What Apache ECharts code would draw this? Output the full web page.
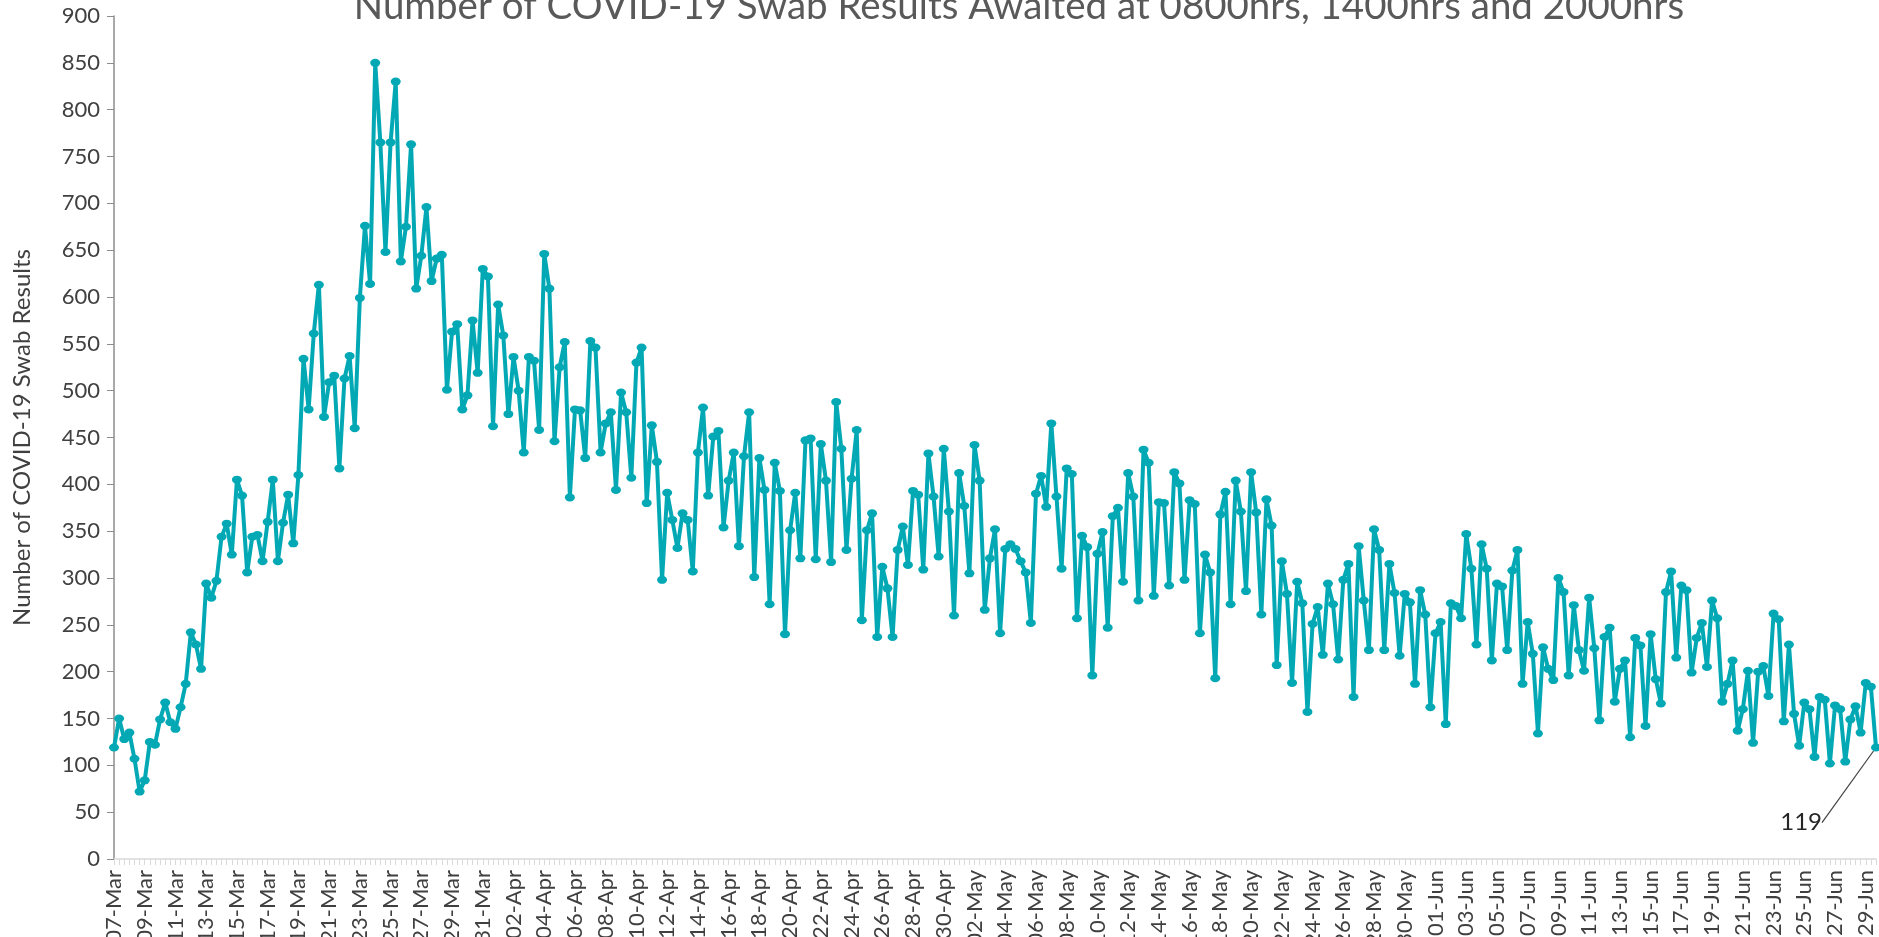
<!DOCTYPE html>
<html>
<head>
<meta charset="utf-8">
<title>COVID-19 Swab Results Awaited</title>
<script src="https://cdn.jsdelivr.net/npm/echarts@6/dist/echarts.min.js"></script>
<style>
  html, body { margin: 0; padding: 0; background: #fff; }
  #chart { width: 1879px; height: 937px; }
</style>
</head>
<body>
<div id="chart"></div>
<script>
// three readings a day (0800, 1400, 2000 hrs), 07-Mar to 29-Jun
const months = ['Mar', 'Apr', 'May', 'Jun']
const monthDays = [[7, 31], [1, 30], [1, 31], [1, 29]]
const slots = ['0800hrs', '1400hrs', '2000hrs']
const yMin = 0
const yMax = 900
const yStep = 50

const awaited = [
    119, 150, 128, 135, 107, 72, 84, 125, 122, 149, 167, 146, 139, 162, 187,
    242, 229, 203, 294, 279, 297, 344, 358, 325, 405, 388, 306, 344, 346, 318,
    360, 405, 318, 359, 389, 337, 410, 534, 480, 561, 613, 472, 509, 516, 417,
    513, 537, 460, 599, 676, 614, 850, 765, 648, 765, 830, 638, 675, 763, 609,
    644, 696, 617, 641, 645, 501, 563, 571, 480, 495, 575, 519, 630, 622, 462,
    592, 559, 475, 536, 500, 434, 536, 532, 458, 646, 609, 446, 525, 552, 386,
    480, 479, 428, 553, 546, 434, 465, 477, 394, 498, 477, 407, 530, 546, 380,
    463, 424, 298, 391, 362, 332, 369, 362, 307, 434, 482, 388, 451, 457, 354,
    404, 434, 334, 430, 477, 301, 428, 394, 272, 423, 393, 240, 351, 391, 321,
    447, 449, 320, 443, 404, 317, 488, 438, 330, 406, 458, 255, 351, 369, 237,
    312, 289, 237, 330, 355, 314, 393, 389, 309, 433, 387, 323, 438, 371, 260,
    412, 377, 305, 442, 404, 266, 321, 352, 241, 331, 336, 331, 318, 306, 252,
    390, 409, 376, 465, 387, 310, 417, 411, 257, 345, 333, 196, 326, 349, 247,
    366, 375, 296, 412, 387, 276, 437, 423, 281, 381, 380, 292, 413, 401, 298,
    383, 379, 241, 325, 306, 193, 368, 392, 272, 404, 371, 286, 413, 370, 261,
    384, 356, 207, 318, 283, 188, 296, 273, 157, 251, 269, 218, 294, 272, 213,
    298, 315, 173, 334, 276, 223, 352, 330, 223, 315, 284, 217, 283, 274, 187,
    287, 261, 162, 241, 253, 144, 273, 270, 257, 347, 310, 229, 336, 310, 212,
    294, 291, 223, 308, 330, 187, 253, 219, 134, 226, 203, 191, 300, 285, 196,
    271, 223, 201, 279, 225, 148, 237, 247, 168, 203, 212, 130, 236, 228, 142,
    240, 192, 166, 285, 307, 215, 292, 287, 199, 236, 252, 205, 276, 257, 168,
    187, 212, 137, 160, 201, 124, 200, 206, 174, 262, 256, 147, 229, 155, 121,
    167, 160, 109, 173, 170, 102, 164, 160, 104, 149, 163, 135, 188, 184, 119
]

const categories = []
months.forEach((m, k) => {
    for (let d = monthDays[k][0]; d <= monthDays[k][1]; d++) {
        const day = (d < 10 ? '0' : '') + d + '-' + m
        slots.forEach(s => categories.push(day + ' ' + s))
    }
})

const teal = '#02a9b5'
const font = 'Lato, "Open Sans", sans-serif'
const last = awaited.length - 1

const chart = echarts.init(document.getElementById('chart'))

const option = {
    animation: false,
    backgroundColor: '#fff',
    title: {
        text: 'Number of COVID-19 Swab Results Awaited at 0800hrs, 1400hrs and 2000hrs',
        left: 1014,
        top: -18,
        textAlign: 'center',
        textStyle: { fontFamily: font, fontSize: 38.5, fontWeight: 'normal', color: '#595959' }
    },
    grid: { left: 114, right: 3, top: 16, bottom: 78, outerBoundsMode: 'none' },
    xAxis: {
        type: 'category',
        boundaryGap: false,
        data: categories,
        axisLine: { lineStyle: { color: '#d9d9d9', width: 1.5 } },
        axisTick: { interval: 0, length: 6, lineStyle: { color: '#d9d9d9' } },
        axisLabel: {
            interval: 5,
            rotate: 90,
            margin: 11,
            fontFamily: font,
            fontSize: 22,
            color: '#404040',
            formatter: v => v.split(' ')[0]
        }
    },
    yAxis: {
        type: 'value',
        min: yMin,
        max: yMax,
        interval: yStep,
        name: 'Number of COVID-19 Swab Results',
        nameLocation: 'middle',
        nameGap: 80,
        nameTextStyle: { fontFamily: font, fontSize: 24, color: '#404040' },
        axisLine: { show: true, lineStyle: { color: '#8c8c8c', width: 1.5 } },
        axisTick: { show: true, length: 7, lineStyle: { color: '#8c8c8c' } },
        axisLabel: { margin: 14, fontFamily: font, fontSize: 22, color: '#404040' },
        splitLine: { show: false }
    },
    series: [{
        type: 'line',
        data: awaited.map((v, i) => i === last ? {
            value: v,
            label: {
                show: true,
                position: 'left',
                fontFamily: font,
                fontSize: 24,
                color: '#262626'
            },
            labelLine: { show: true, lineStyle: { color: '#404040', width: 1.2 } }
        } : v),
        symbol: 'circle',
        symbolSize: [10, 8],
        showSymbol: true,
        showAllSymbol: true,
        lineStyle: { color: teal, width: 4 },
        itemStyle: { color: teal },
        labelLayout: { dx: -44, dy: 75 },
        z: 3
    }]
}

chart.setOption(option)
</script>
</body>
</html>
